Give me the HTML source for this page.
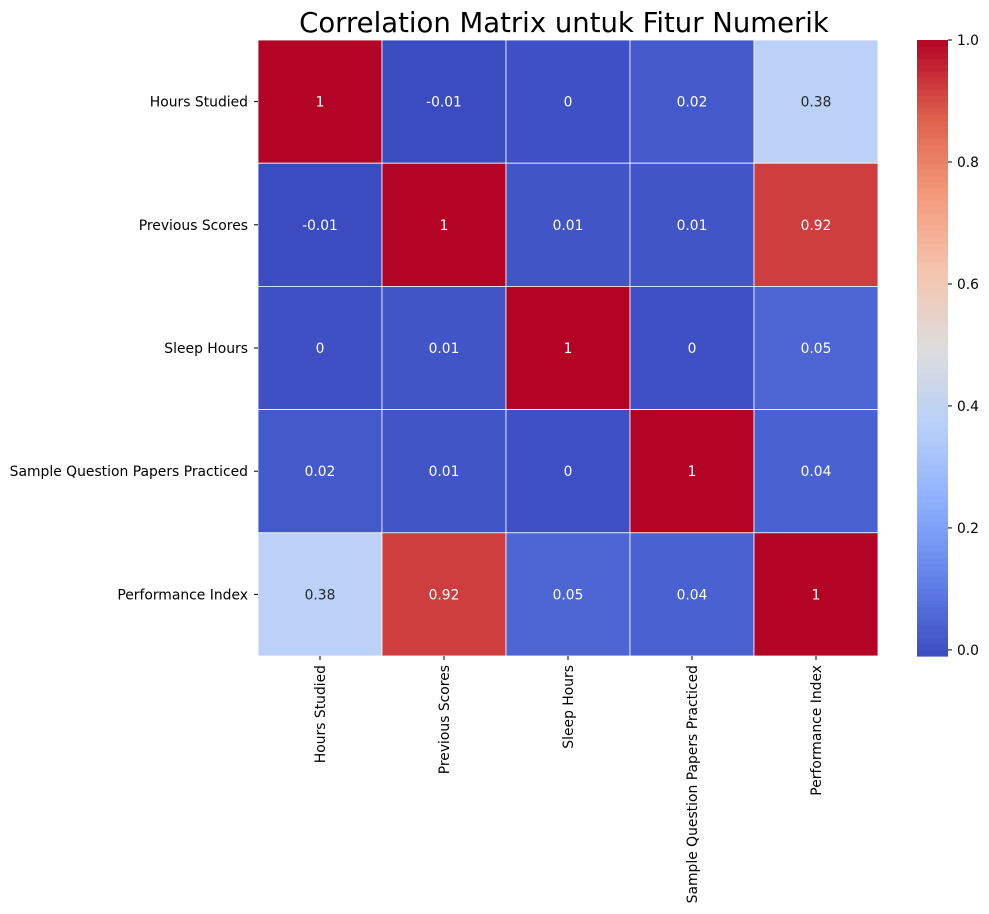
<!DOCTYPE html>
<html><head><meta charset="utf-8"><style>
body{margin:0;background:#fff;}
svg{display:block;font-family:"DejaVu Sans","Liberation Sans",sans-serif;}
</style></head><body>
<svg id="chart" width="989" height="914" viewBox="0 0 989 914">
<text x="564" y="32" font-size="27.5" text-anchor="middle" fill="#000">Correlation Matrix untuk Fitur Numerik</text>
<g id="cells"></g><g id="ylab"></g><g id="xlab"></g><g id="cbar"></g>
</svg>
<script>
const labels = ["Hours Studied","Previous Scores","Sleep Hours","Sample Question Papers Practiced","Performance Index"];
const matrix = [
 [1,-0.01,0,0.02,0.38],
 [-0.01,1,0.01,0.01,0.92],
 [0,0.01,1,0,0.05],
 [0.02,0.01,0,1,0.04],
 [0.38,0.92,0.05,0.04,1]
];
const cbarTicks = [0.0,0.2,0.4,0.6,0.8,1.0];
const vmin=-0.01, vmax=1;
const X0=258,X1=878,Y0=40,Y1=656;
const CB0=917,CB1=948;
const stops=[[59,76,192],[98,130,234],[141,176,254],[184,208,249],[221,221,221],[245,196,173],[244,154,123],[222,96,77],[180,4,38]];
function cmap(v){let t=(v-vmin)/(vmax-vmin);t=Math.max(0,Math.min(1,t));const p=t*8,i=Math.min(7,Math.floor(p)),f=p-i;const a=stops[i],b=stops[i+1];return `rgb(${a.map((c,k)=>Math.round(c+(b[k]-c)*f)).join(',')})`;}
const n=labels.length,cw=(X1-X0)/n,ch=(Y1-Y0)/n;
const xS=i=>X0+i*cw, yS=i=>Y0+i*ch, cbY=v=>Y1-(v-vmin)/(vmax-vmin)*(Y1-Y0);
const NS="http://www.w3.org/2000/svg";
function mk(tag,attrs,parent,txt){const e=document.createElementNS(NS,tag);for(const k in attrs)e.setAttribute(k,attrs[k]);if(txt!==undefined)e.textContent=txt;parent.appendChild(e);return e;}
const cells=document.getElementById('cells');
matrix.forEach((row,r)=>row.forEach((v,c)=>{
 const rect=mk('rect',{x:xS(c),y:yS(r),width:cw,height:ch,fill:cmap(v),stroke:'#fff','stroke-width':0.8},cells);
 
 
 const t=mk('text',{x:xS(c)+cw/2,y:yS(r)+ch/2+5,'font-size':13.8,'text-anchor':'middle',fill:(v>0.25&&v<0.7)?'#262626':'#fff'},cells,String(v));
 
 
}));
const yl=document.getElementById('ylab'),xl=document.getElementById('xlab');
labels.forEach((l,i)=>{
 const cy=yS(i)+ch/2;
 mk('line',{x1:X0-4,x2:X0,y1:cy,y2:cy,stroke:'#000'},yl);
 const t=mk('text',{x:X0-10,y:cy+5,'font-size':13.9,'text-anchor':'end'},yl,l);
 
 
 const cx=xS(i)+cw/2;
 mk('line',{x1:cx,x2:cx,y1:Y1,y2:Y1+4,stroke:'#000'},xl);
 const u=mk('text',{x:0,y:0,'font-size':13.9,'text-anchor':'end',transform:`translate(${cx+5},${Y1+9}) rotate(-90)`},xl,l);
 
 
});
const cb=document.getElementById('cbar');
const steps=100;
for(let k=0;k<steps;k++){const v0=vmin+(vmax-vmin)*k/steps,v1=vmin+(vmax-vmin)*(k+1)/steps;
 mk('rect',{x:CB0,y:cbY(v1),width:CB1-CB0,height:cbY(v0)-cbY(v1)+0.6,fill:cmap((v0+v1)/2)},cb);}
cbarTicks.forEach(v=>{const y=cbY(v);
 mk('line',{x1:CB1,x2:CB1+4,y1:y,y2:y,stroke:'#000'},cb);
 const t=mk('text',{x:CB1+9,y:y+5,'font-size':13.8},cb,v.toFixed(1));
 
 
});


</script>
</body></html>
